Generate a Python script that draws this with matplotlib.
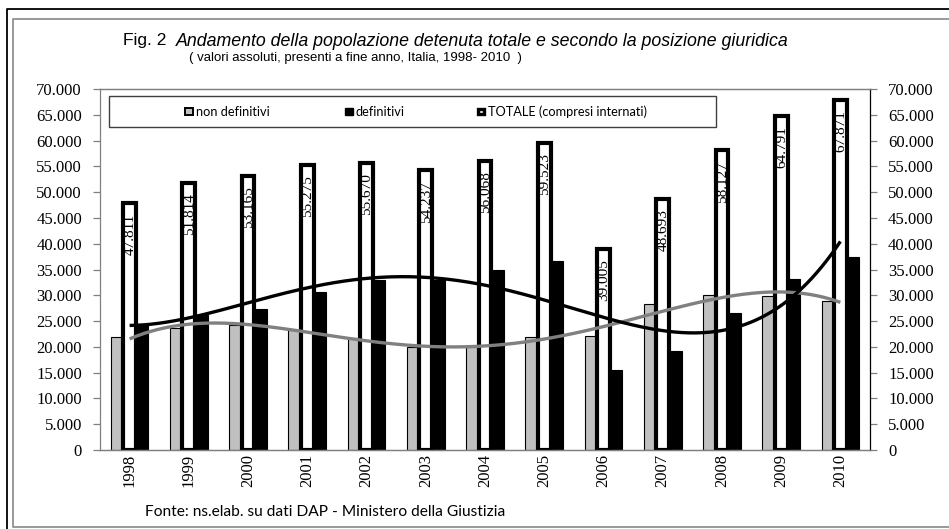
import numpy as np
import matplotlib
matplotlib.use("Agg")
import matplotlib.pyplot as plt
from matplotlib.patches import Rectangle
from matplotlib.lines import Line2D

years = ["1998", "1999", "2000", "2001", "2002", "2003", "2004",
         "2005", "2006", "2007", "2008", "2009", "2010"]
non_definitivi = [21950, 23600, 24200, 23300, 21700, 20000, 19900,
                  21850, 22200, 28300, 30100, 29850, 28800]
definitivi = [24400, 26200, 27300, 30700, 33000, 33000, 35000,
              36700, 15500, 19100, 26600, 33100, 37450]
totale = [47811, 51814, 53165, 55275, 55670, 54237, 56068,
          59523, 39005, 48693, 58127, 64791, 67871]
legend_labels = ["non definitivi", "definitivi", "TOTALE (compresi internati)"]
title_a = "Fig. 2"
title_b = "Andamento della popolazione detenuta totale e secondo la posizione giuridica"
subtitle = "( valori assoluti, presenti a fine anno, Italia, 1998- 2010  )"
source = "Fonte: ns.elab. su dati DAP - Ministero della Giustizia"
yticks = list(range(0, 70001, 5000))

W, H = 949, 529
fig = plt.figure(figsize=(W / 100, H / 100), dpi=100)


def fx(px):
    return px / W


def fy(py):
    return 1 - py / H


serif = ["Liberation Serif", "DejaVu Serif"]
sans = ["Liberation Sans", "DejaVu Sans"]
cal = ["Lato", "DejaVu Sans"]

ax = fig.add_axes([fx(100), fy(450), fx(870) - fx(100), fy(89) - fy(450)])
ax2 = ax.twinx()

x = np.arange(len(years))
ax.bar(x - 0.16, non_definitivi, width=0.317, color="#C0C0C0",
       edgecolor="black", linewidth=0.8, zorder=2)
ax.bar(x + 0.16, definitivi, width=0.317, color="black",
       edgecolor="black", linewidth=0.8, zorder=2)
ax2.bar(x, totale, width=0.215, color="white", edgecolor="black",
        linewidth=3.0, zorder=2)

for xi, v in zip(x, totale):
    ax2.annotate(f"{v:,}".replace(",", "."), (xi, v), xytext=(0.3, -7.5),
                 textcoords="offset points", rotation=90, ha="center",
                 va="top", fontsize=11, family=serif, zorder=4)

# polynomial trend lines (as in the original spreadsheet)
xs = np.linspace(0, len(years) - 1, 300)
p_nd = np.polyfit(x, non_definitivi, 4)
p_d = np.polyfit(x, definitivi, 4)
ax2.plot(xs, np.polyval(p_nd, xs), color="#808080", lw=2.4, zorder=5,
         solid_capstyle="butt")
ax2.plot(xs, np.polyval(p_d, xs), color="black", lw=2.4, zorder=5,
         solid_capstyle="butt")

for a in (ax, ax2):
    a.set_xlim(-0.5, len(years) - 0.5)
    a.set_ylim(0, 70000)
    a.set_yticks(yticks)
    a.set_yticklabels([f"{v:,}".replace(",", ".") for v in yticks],
                      family=serif, fontsize=12)
    for s in a.spines.values():
        s.set_color("#808080")
        s.set_linewidth(0.9)
ax.spines["right"].set_visible(False)
ax2.spines["left"].set_visible(False)
ax2.spines["right"].set_color("black")
ax.tick_params(axis="y", direction="out", length=5, width=0.9,
               color="#808080", pad=8)
ax2.tick_params(axis="y", direction="out", length=5, width=0.9,
                color="#808080", pad=8)
ax.set_xticks(np.arange(-0.5, len(years), 1.0))
ax.set_xticklabels([])
ax.tick_params(axis="x", direction="out", length=5, width=0.9,
               color="#808080")
ax.set_xticks(x, minor=True)
ax.set_xticklabels(years, minor=True, rotation=90, family=serif,
                   fontsize=12)
ax.tick_params(axis="x", which="minor", length=0, pad=3)
ax2.set_xticks([])

# legend box
fig.patches.append(Rectangle((fx(109), fy(127)), fx(716) - fx(109),
                             fy(96) - fy(127), transform=fig.transFigure,
                             facecolor="white", edgecolor="#404040",
                             linewidth=1.0, zorder=6))
mk_x = [185, 345, 477]
ly = 111.5
s = 7.5
fig.patches.append(Rectangle((fx(mk_x[0]), fy(ly + s / 2)), fx(s), s / H,
                             transform=fig.transFigure, facecolor="#C0C0C0",
                             edgecolor="black", linewidth=1.4, zorder=7))
fig.patches.append(Rectangle((fx(mk_x[1]), fy(ly + s / 2)), fx(s), s / H,
                             transform=fig.transFigure, facecolor="black",
                             edgecolor="black", linewidth=1.0, zorder=7))
fig.patches.append(Rectangle((fx(mk_x[2] + 1), fy(ly + s / 2 - 1)),
                             fx(s - 2), (s - 2) / H,
                             transform=fig.transFigure, facecolor="white",
                             edgecolor="black", linewidth=2.4, zorder=7))
for mx, lab in zip(mk_x, legend_labels):
    fig.text(fx(mx + s + 3), fy(ly), lab, family=cal, fontsize=9.2,
             ha="left", va="center", zorder=8)

# titles
fig.text(fx(123), fy(41), title_a, family=sans, fontsize=12.5,
         ha="left", va="center")
fig.text(fx(176), fy(41), title_b, family=sans, style="italic",
         fontsize=12.8, ha="left", va="center")
fig.text(fx(189), fy(58), subtitle, family=sans, fontsize=9.5,
         ha="left", va="center")
fig.text(fx(145), fy(512), source, family=cal, fontsize=11.2,
         ha="left", va="center")

# frames
fig.add_artist(Line2D([fx(7), fx(7), fx(949)], [fy(529), fy(9), fy(9)],
                      transform=fig.transFigure, color="black", lw=1.3))
fig.add_artist(Line2D([fx(949), fx(13), fx(13), fx(949)],
                      [fy(527), fy(527), fy(19), fy(19)],
                      transform=fig.transFigure, color="#909090", lw=1.3))

fig.savefig("out.png", dpi=100)
